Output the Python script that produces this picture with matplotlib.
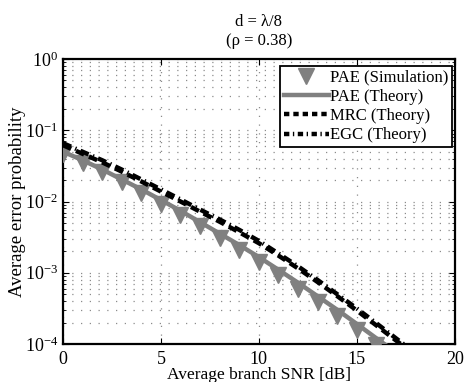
import numpy as np
import matplotlib.pyplot as plt
from matplotlib.ticker import LogLocator, NullFormatter, FixedLocator

plt.rcParams['font.family'] = ['Liberation Serif', 'DejaVu Serif']
plt.rcParams['mathtext.fontset'] = 'stix'

# average branch SNR [dB]
snr_sim = np.arange(0, 17)
snr_th = np.arange(0, 19)

pae_sim = [0.0468, 0.0347, 0.0257, 0.0186, 0.0132, 9.1e-3, 6.5e-3, 4.5e-3, 3.1e-3,
           2.1e-3, 1.41e-3, 9.3e-4, 6.0e-4, 3.9e-4, 2.45e-4, 1.55e-4, 9.8e-5]
pae_th = [0.0501, 0.0380, 0.0282, 0.0204, 0.0148, 0.0105, 7.41e-3, 5.13e-3, 3.55e-3,
          2.45e-3, 1.66e-3, 1.10e-3, 7.24e-4, 4.68e-4, 3.02e-4, 1.91e-4, 1.20e-4, 7.6e-5, 4.8e-5]
mrc_th = [0.0617, 0.0468, 0.0355, 0.0263, 0.0191, 0.0138, 0.0100, 7.2e-3, 5.2e-3,
          3.7e-3, 2.6e-3, 1.74e-3, 1.15e-3, 7.4e-4, 4.7e-4, 2.95e-4, 1.82e-4, 1.12e-4, 6.9e-5]
egc_th = [0.066, 0.050, 0.038, 0.0281, 0.0204, 0.0148, 0.0107, 7.7e-3, 5.6e-3,
          4.0e-3, 2.8e-3, 1.86e-3, 1.23e-3, 7.9e-4, 5.0e-4, 3.15e-4, 1.95e-4, 1.20e-4, 7.4e-5]

gray = '#808080'

fig = plt.figure(figsize=(4.66, 3.82), dpi=100)
ax = fig.add_axes([0.135, 0.0995, 0.841, 0.746])

ax.semilogy(snr_th, pae_th, '-', color=gray, lw=3.2, zorder=3)
ax.semilogy(snr_sim, pae_sim, 'v', color=gray, ms=11, zorder=4)
ax.semilogy(snr_th, mrc_th, '--', color='black', lw=3.2, dashes=(2.0, 1.2), zorder=5)
ax.semilogy(snr_th, egc_th, '-.', color='black', lw=3.2, dashes=(2.0, 1.0, 0.3, 1.0), zorder=5)

# legend handles
h1, = ax.plot([], [], 'v', color=gray, ms=11)
h2, = ax.plot([], [], '-', color=gray, lw=3.2)
h3, = ax.plot([], [], '--', color='black', lw=3.2, dashes=(1.2, 0.9))
h4, = ax.plot([], [], '-.', color='black', lw=3.2, dashes=(1.2, 0.8, 0.3, 0.8))

ax.set_xlim(0, 20)
ax.set_ylim(1e-4, 1)
ax.xaxis.set_major_locator(FixedLocator([0, 5, 10, 15, 20]))
ax.yaxis.set_major_locator(LogLocator(base=10))
ax.yaxis.set_minor_locator(LogLocator(base=10, subs=np.arange(2, 10)))
ax.yaxis.set_minor_formatter(NullFormatter())

ax.grid(True, which='major', axis='both', linestyle=(0, (1, 6)), color='#8c8c8c', lw=0.9)
ax.grid(True, which='minor', axis='y', linestyle=(0, (1, 6)), color='#8c8c8c', lw=0.9)

ax.tick_params(which='both', direction='in', top=True, right=True, labelsize=13)
ax.tick_params(which='major', length=4)
ax.tick_params(which='minor', length=2.5)
ax.tick_params(axis='x', pad=5)
for s in ax.spines.values():
    s.set_linewidth(1.6)

ax.set_xlabel('Average branch SNR [dB]', fontsize=12.5, labelpad=-1)
ax.set_ylabel('Average error probability', fontsize=13.5, labelpad=-1)
ax.set_title('d = λ/8\n(ρ = 0.38)', fontsize=12, pad=10, linespacing=1.3)

leg = ax.legend([h1, h2, h3, h4],
                ['PAE (Simulation)', 'PAE (Theory)', 'MRC (Theory)', 'EGC (Theory)'],
                loc='upper right', bbox_to_anchor=(0.993, 0.975),
                fontsize=12, frameon=True, fancybox=False,
                edgecolor='black', framealpha=1, borderpad=0.2, labelspacing=0.2,
                handlelength=2.7, handletextpad=0.1, borderaxespad=0.0)
leg.get_frame().set_linewidth(1.3)

fig.savefig('out.png', dpi=100)
